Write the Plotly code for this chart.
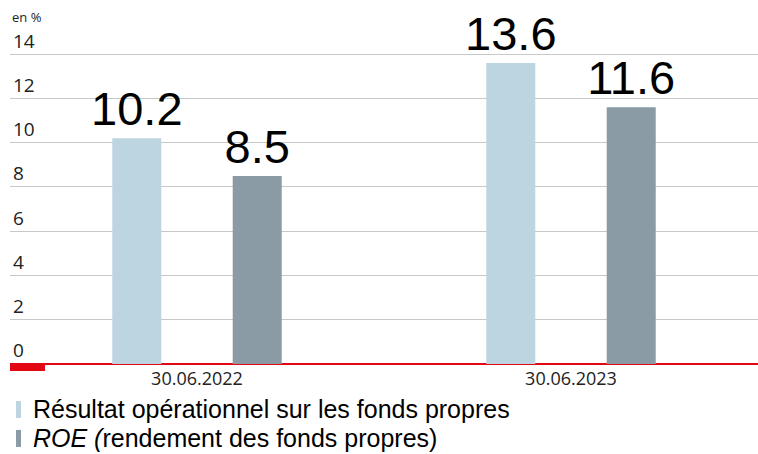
import plotly.graph_objects as go

categories = ["30.06.2022", "30.06.2023"]
series_names = ["Résultat opérationnel sur les fonds propres", "<i>ROE (</i>rendement des fonds propres)"]
operating = [10.2, 13.6]
roe = [8.5, 11.6]
colors = ["#BDD5E1", "#8A9BA6"]
y_ticks = [0, 2, 4, 6, 8, 10, 12, 14]

W, H = 758, 454
Y_MAX = 15.5
PX_PER_UNIT = 310 / 14
L, R, B = 10, 0, 90
plot_h = Y_MAX * PX_PER_UNIT
T = H - B - plot_h
plot_w = W - L - R

def px_x(px):
    return (px - L) / plot_w

def px_y(py):
    return (H - B - py) / plot_h

fig = go.Figure()
for name, vals, col in zip(series_names, [operating, roe], colors):
    fig.add_trace(go.Bar(
        x=categories, y=vals, name=name, marker=dict(color=col, line=dict(width=0)),
        text=[f"{v:.1f}" for v in vals], textposition="outside", constraintext="none",
        textfont=dict(family="Liberation Sans, Arial", size=47, color="#000000"),
        cliponaxis=False, showlegend=False, hoverinfo="skip",
    ))

shapes = [
    dict(type="rect", xref="paper", yref="paper", x0=px_x(10), x1=px_x(45),
         y0=px_y(363), y1=px_y(371), fillcolor="#E30613", line=dict(width=0), layer="above"),
]
annotations = [
    dict(text="en %", xref="paper", yref="paper", x=px_x(10), y=px_y(17), xanchor="left",
         yanchor="middle", showarrow=False,
         font=dict(family="Open Sans", size=13, color="#222222")),
]
legend_rows = [409.5, 438.5]
for name, col, cy in zip(series_names, colors, legend_rows):
    shapes.append(dict(type="rect", xref="paper", yref="paper", x0=px_x(16), x1=px_x(21),
                       y0=px_y(cy - 8.5), y1=px_y(cy + 8.5), fillcolor=col,
                       line=dict(width=0)))
    annotations.append(dict(text=name, xref="paper", yref="paper", x=px_x(31), y=px_y(cy),
                            xanchor="left", yanchor="middle", showarrow=False,
                            font=dict(family="Liberation Sans, Arial", size=25, color="#000000")))

fig.update_layout(
    width=W, height=H, margin=dict(l=L, r=R, t=T, b=B, pad=0, autoexpand=False),
    paper_bgcolor="white", plot_bgcolor="white",
    barmode="group", bargap=0.356, bargroupgap=0.593,
    shapes=shapes, annotations=annotations,
    xaxis=dict(range=[-0.5, 1.5], showgrid=False, showline=False, zeroline=False,
               automargin=False,
               ticks="", tickfont=dict(family="Open Sans", size=18, color="#222222"),
               ticklabelstandoff=2),
    yaxis=dict(range=[0, Y_MAX], tickvals=y_ticks, showgrid=True, gridcolor="#C8C8C8",
               gridwidth=1, zeroline=True, zerolinecolor="#E30613", zerolinewidth=2,
               showline=False, ticks="", automargin=False,
               ticklabelposition="inside top",
               tickfont=dict(family="Open Sans", size=19, color="#222222")),
)

fig.write_html(
    "out.html",
    config={"displayModeBar": False},
    post_script="document.body.style.margin='0';document.body.style.padding='0';",
)
